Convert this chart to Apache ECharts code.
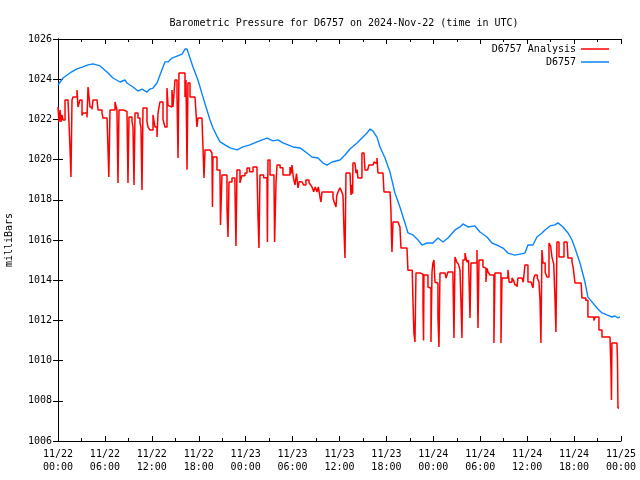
<!DOCTYPE html>
<html>
<head>
<meta charset="utf-8">
<script src="https://cdn.jsdelivr.net/npm/echarts@6/dist/echarts.min.js"></script>
<style>html,body{margin:0;padding:0;background:#fff}#c{width:640px;height:480px}</style>
</head>
<body>
<div id="c"></div>
<script>
// hours since 2024-11-22 00:00 UTC, pressure in millibars
const analysisPts = [
[0,1022.62],[0.13,1021.87],[0.26,1022.47],[0.38,1021.87],[0.51,1022.22],[0.64,1021.97],[0.9,1022.97],[1.28,1022.97],
[1.53,1020.63],[1.66,1019.13],[1.79,1022.97],[1.92,1023.11],[2.43,1023.46],[2.56,1022.62],[2.81,1022.97],[3.07,1022.2],
[3.2,1022.32],[3.71,1022.1],[3.84,1023.61],[4.09,1022.62],[4.35,1022.5],[4.48,1022.97],[4.99,1022.97],[5.12,1022.47],
[5.63,1022.32],[5.75,1022.07],[6.27,1022.07],[6.39,1020.58],[6.5,1019.13],[6.65,1022.47],[7.29,1022.87],[7.54,1022.47],
[7.67,1018.84],[7.8,1022.47],[8.31,1022.4],[8.82,1022.4],[8.95,1018.84],[9.08,1022.12],[9.46,1021.9],[9.59,1021.62],
[9.72,1018.74],[9.85,1022.32],[10.23,1022.07],[10.49,1021.8],[10.61,1021.62],[10.74,1018.49],[10.87,1022.57],[11.38,1021.9],
[11.51,1021.62],[11.76,1021.47],[12.15,1022.22],[12.4,1021.62],[12.66,1021.12],[12.79,1022.32],[13.04,1022.87],[13.43,1022.0],
[13.68,1021.62],[13.94,1023.56],[14.07,1022.7],[14.32,1022.62],[14.58,1023.46],[14.71,1022.62],[14.96,1023.96],[15.22,1023.21],
[15.35,1020.08],[15.47,1024.31],[16.24,1023.11],[16.37,1023.96],[16.5,1019.5],[16.62,1023.81],[16.88,1023.11],[17.52,1023.11],
[17.77,1021.62],[17.9,1022.07],[18.41,1022.07],[18.54,1020.63],[18.67,1019.08],[18.8,1020.48],[19.44,1020.4],[19.69,1020.33],
[19.75,1017.64],[19.82,1020.13],[20.33,1019.48],[20.72,1019.23],[20.78,1016.75],[20.97,1019.23],[21.61,1017.6],[21.74,1016.15],
[21.87,1018.89],[22.25,1019.08],[22.63,1018.59],[22.76,1015.7],[22.89,1019.48],[23.27,1018.84],[23.5,1019.2],[23.91,1019.33],
[24.17,1019.58],[24.5,1019.4],[24.94,1019.63],[25.45,1019.38],[25.58,1017.14],[25.7,1015.6],[25.83,1019.23],[26.3,1019.1],
[26.73,1019.0],[26.78,1015.9],[26.85,1019.98],[27.11,1019.23],[27.62,1019.0],[27.7,1015.9],[27.88,1018.84],[28.01,1019.73],
[28.4,1019.6],[28.77,1019.23],[29.67,1019.63],[29.8,1019.3],[29.92,1019.73],[30.1,1019.1],[30.31,1018.74],[30.5,1019.3],
[30.69,1018.59],[30.85,1018.9],[31.2,1018.89],[31.4,1018.74],[31.71,1018.99],[32.1,1018.85],[32.3,1018.74],[32.48,1018.64],
[32.7,1018.4],[32.9,1018.64],[33.12,1018.39],[33.3,1018.64],[33.5,1018.14],[33.63,1017.89],[33.76,1018.39],[34.9,1018.39],
[35.17,1018.09],[35.3,1017.9],[35.55,1017.64],[35.65,1018.2],[35.81,1018.39],[36.06,1018.59],[36.3,1018.39],[36.45,1018.2],
[36.57,1016.5],[36.7,1015.1],[36.83,1019.33],[37.34,1019.33],[37.47,1018.24],[37.6,1018.74],[37.68,1018.3],[37.72,1019.83],
[37.98,1019.88],[38.11,1019.33],[38.25,1019.5],[38.36,1019.08],[38.87,1020.33],[39.13,1020.33],[39.26,1019.48],[39.6,1019.4],
[39.77,1019.73],[40.3,1019.73],[40.41,1019.88],[40.6,1019.8],[40.79,1020.08],[40.92,1019.33],[41.56,1019.33],[41.69,1018.39],
[42.46,1018.39],[42.58,1017.49],[42.65,1016.15],[42.71,1015.4],[42.84,1016.9],[43.48,1016.9],[43.73,1016.65],[43.86,1015.6],
[44.63,1015.6],[44.75,1014.5],[45.3,1014.45],[45.4,1012.87],[45.52,1011.37],[45.65,1010.93],[45.78,1014.36],[46.29,1014.36],
[46.5,1014.3],[46.68,1012.67],[46.75,1011.0],[46.8,1014.26],[47.31,1013.66],[47.5,1013.6],[47.7,1010.93],[47.83,1014.41],
[47.95,1014.86],[48.08,1015.0],[48.21,1013.91],[48.4,1013.85],[48.59,1012.17],[48.72,1010.68],[48.85,1014.36],[49.5,1014.36],
[49.62,1014.11],[49.75,1014.26],[49.87,1014.41],[50.5,1014.35],[50.64,1011.12],[50.77,1015.15],[51.0,1014.9],[51.2,1014.8],
[51.41,1014.51],[51.55,1012.7],[51.66,1011.12],[51.79,1015.0],[52.05,1015.35],[52.3,1014.9],[52.5,1015.0],[52.69,1012.12],
[52.81,1014.86],[53.2,1014.9],[53.4,1014.86],[53.58,1015.5],[53.71,1011.62],[53.84,1015.0],[54.35,1014.66],[54.6,1014.6],
[54.73,1013.91],[54.85,1014.6],[55.0,1014.4],[55.24,1014.26],[55.75,1010.88],[55.88,1014.36],[56.39,1014.36],[56.65,1010.88],
[56.78,1014.11],[57.54,1014.51],[57.7,1013.9],[58.06,1014.11],[58.3,1013.95],[58.44,1013.76],[58.7,1013.66],[58.82,1014.11],
[59.34,1014.16],[59.5,1013.9],[59.72,1014.76],[60.1,1013.91],[60.5,1013.9],[60.74,1013.61],[60.85,1014.11],[61.0,1014.26],
[61.3,1014.1],[61.51,1013.91],[61.64,1013.01],[61.76,1010.88],[61.89,1015.5],[62.02,1014.86],[62.3,1014.4],[62.53,1014.16],
[62.79,1015.85],[63.0,1015.7],[63.17,1015.15],[63.4,1014.8],[63.55,1013.16],[63.68,1011.42],[63.81,1015.9],[64.07,1015.15],
[64.45,1015.1],[64.6,1015.15],[64.71,1015.9],[65.1,1015.9],[65.22,1015.1],[65.73,1014.91],[65.9,1014.6],[66.11,1013.86],
[66.9,1013.9],[67.01,1013.11],[67.5,1013.0],[67.77,1012.17],[68.54,1012.0],[68.7,1012.17],[69.18,1011.52],[69.57,1011.17],
[70.59,1011.17],[70.72,1009.53],[70.78,1008.04],[70.84,1010.88],[71.48,1010.88],[71.55,1010.03],[71.61,1007.64],[71.75,1007.64]
];
const stationPts = [
[0,1023.71],[0.64,1024.06],[1.53,1024.31],[2.43,1024.51],[3.2,1024.61],[3.84,1024.71],[4.48,1024.76],[5.37,1024.66],
[6.27,1024.36],[7.03,1024.06],[7.93,1023.86],[8.57,1023.96],[8.82,1023.81],[9.59,1023.61],[10.23,1023.41],[10.74,1023.51],
[11.38,1023.36],[11.76,1023.51],[12.15,1023.56],[12.66,1023.81],[13.04,1024.21],[13.43,1024.61],[13.68,1024.86],[14.07,1024.86],
[14.58,1025.05],[15.22,1025.15],[15.86,1025.25],[16.24,1025.5],[16.5,1025.5],[16.88,1025.05],[17.26,1024.61],[17.9,1023.96],
[18.54,1023.11],[19.05,1022.47],[19.44,1021.97],[19.82,1021.57],[20.33,1021.17],[20.72,1020.88],[21.36,1020.73],[22.0,1020.58],
[22.89,1020.48],[23.66,1020.63],[24.55,1020.73],[25.45,1020.88],[26.73,1021.07],[27.49,1020.93],[28.13,1020.98],[28.77,1020.83],
[30.05,1020.63],[30.95,1020.58],[31.84,1020.33],[32.48,1020.13],[33.25,1020.08],[33.89,1019.83],[34.4,1019.73],[35.04,1019.88],
[36.06,1019.98],[36.7,1020.23],[37.34,1020.53],[38.24,1020.83],[38.87,1021.07],[39.51,1021.32],[39.9,1021.52],[40.28,1021.42],
[40.79,1021.12],[41.18,1020.63],[41.82,1020.08],[42.46,1019.38],[43.09,1018.34],[43.73,1017.64],[44.37,1016.85],[44.76,1016.35],
[45.4,1016.25],[46.04,1016.0],[46.55,1015.75],[47.19,1015.85],[47.95,1015.85],[48.59,1016.1],[49.23,1015.9],[49.87,1016.1],
[50.77,1016.5],[51.41,1016.65],[51.79,1016.8],[52.43,1016.65],[53.32,1016.7],[53.96,1016.4],[54.86,1016.15],[55.5,1015.85],
[56.14,1015.75],[56.91,1015.6],[57.54,1015.35],[58.44,1015.25],[59.08,1015.3],[59.72,1015.35],[60.1,1015.75],[60.74,1015.75],
[61.25,1016.15],[61.89,1016.35],[62.28,1016.5],[62.92,1016.7],[63.55,1016.75],[63.94,1016.85],[64.58,1016.65],[65.22,1016.35],
[65.73,1016.0],[66.11,1015.6],[66.75,1014.86],[67.39,1013.91],[67.77,1013.16],[68.29,1012.92],[68.93,1012.62],[69.57,1012.37],
[70.2,1012.27],[70.84,1012.17],[71.23,1012.22],[71.61,1012.12],[71.87,1012.17]
];
const seriesNames = ['D6757 Analysis', 'D6757'];
const titleText = 'Barometric Pressure for D6757 on 2024-Nov-22 (time in UTC)';
const yName = 'milliBars';
const startMonth = 11, startDay = 22;

const FONT = 'DejaVu Sans Mono';
const pad = n => (n < 10 ? '0' : '') + n;
function xLabel(h) {
  const d = startDay + Math.floor(h / 24);
  const hr = Math.round(h % 24);
  return startMonth + '/' + d + '\n' + pad(hr) + ':00';
}
const xCommon = {
  type: 'value', min: 0, max: 72, interval: 6,
  axisLine: { show: true, lineStyle: { color: '#000', width: 1 } },
  axisTick: { show: true, inside: true, length: 5, lineStyle: { color: '#000' } },
  minorTick: { show: true, splitNumber: 2, length: 3, lineStyle: { color: '#000' } },
  splitLine: { show: false }, minorSplitLine: { show: false }
};
const yCommon = {
  type: 'value', min: 1006, max: 1026, interval: 2,
  axisLine: { show: true, lineStyle: { color: '#000', width: 1 } },
  axisTick: { show: true, inside: true, length: 5, lineStyle: { color: '#000' } },
  splitLine: { show: false }
};
const chart = echarts.init(document.getElementById('c'), null, { renderer: 'canvas' });
chart.setOption({
  animation: false,
  backgroundColor: '#fff',
  title: {
    text: titleText, left: 339, top: 13, textAlign: 'center',
    textStyle: { fontFamily: FONT, fontSize: 10, fontWeight: 'normal', color: '#000' }
  },
  legend: [
    { data: [seriesNames[0]], right: 31, top: 44, align: 'right', icon: 'rect', itemWidth: 28, itemHeight: 1.5,
      textStyle: { fontFamily: FONT, fontSize: 10, color: '#000' }, padding: 0 },
    { data: [seriesNames[1]], right: 31, top: 57, align: 'right', icon: 'rect', itemWidth: 28, itemHeight: 1.5,
      textStyle: { fontFamily: FONT, fontSize: 10, color: '#000' }, padding: 0 }
  ],
  grid: { left: 58, right: 19, top: 39, bottom: 39, containLabel: false, outerBoundsMode: 'none' },
  xAxis: [
    Object.assign({}, xCommon, { position: 'bottom',
      axisLabel: { show: true, formatter: xLabel, fontFamily: FONT, fontSize: 10, color: '#000', lineHeight: 13, margin: 7,
        showMinLabel: true, showMaxLabel: true } }),
    Object.assign({}, xCommon, { position: 'top', axisLabel: { show: false } })
  ],
  yAxis: [
    Object.assign({}, yCommon, { position: 'left',
      name: yName, nameLocation: 'middle', nameRotate: 90, nameGap: 44,
      nameTextStyle: { fontFamily: FONT, fontSize: 10, color: '#000' },
      axisLabel: { show: true, fontFamily: FONT, fontSize: 10, color: '#000', margin: 6, formatter: v => String(v) } }),
    Object.assign({}, yCommon, { position: 'right', axisLabel: { show: false } })
  ],
  series: [
    { name: seriesNames[0], type: 'line', step: 'end', data: analysisPts, symbol: 'none', showSymbol: false,
      color: '#ff0000', lineStyle: { color: '#ff0000', width: 1.5 }, xAxisIndex: 0, yAxisIndex: 0, z: 3 },
    { name: seriesNames[1], type: 'line', data: stationPts, symbol: 'none', showSymbol: false,
      color: '#0a84ff', lineStyle: { color: '#0a84ff', width: 1.4 }, xAxisIndex: 0, yAxisIndex: 0, z: 2 }
  ]
});
</script>
</body>
</html>
